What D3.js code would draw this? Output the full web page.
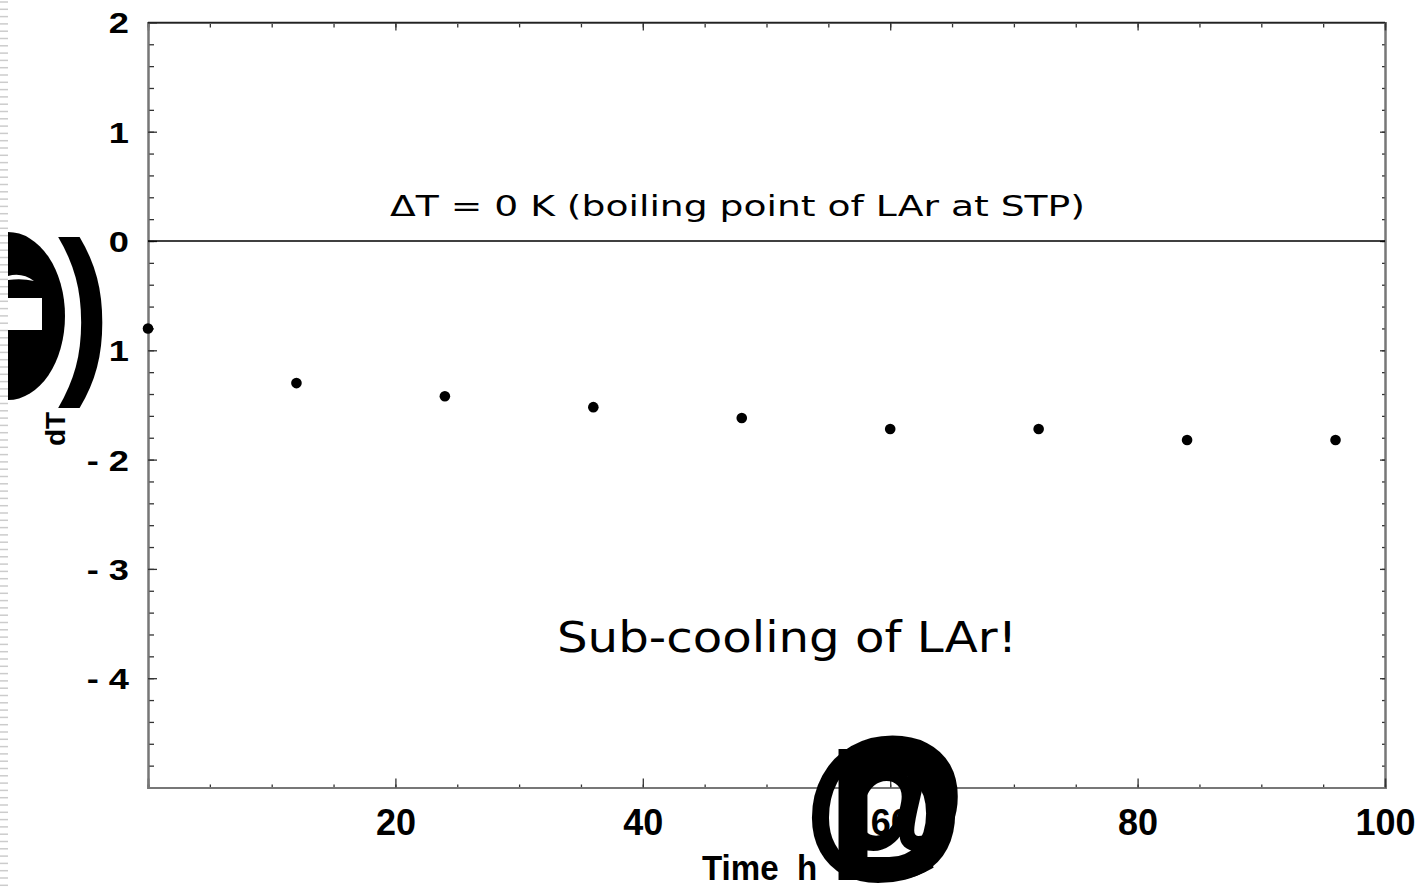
<!DOCTYPE html>
<html>
<head>
<meta charset="utf-8">
<script src="https://cdn.jsdelivr.net/npm/d3@7"></script>
<style>
  body { margin: 0; background: #fff; }
  svg { display: block; }
</style>
</head>
<body>
<div id="visualization"></div>
<script>
// data
var hours = [0, 12, 24, 36, 48, 60, 72, 84, 96];
var deltaT = [-0.80, -1.30, -1.42, -1.52, -1.62, -1.72, -1.72, -1.82, -1.82];
var xTicks = [20, 40, 60, 80, 100];
var yTicks = [-4, -3, -2, -1, 0, 1, 2];

var W = 1423, H = 888;
var plot = { left: 148, right: 1385, top: 22.4, bottom: 787.5 };

var svg = d3.select("#visualization").append("svg")
  .attr("width", W).attr("height", H);

var x = d3.scaleLinear().domain([0, 100]).range([plot.left, plot.right]);
var y = d3.scaleLinear().domain([-5, 2]).range([plot.bottom, plot.top]);

var minorX = d3.range(0, 101, 5);
var minorY = d3.range(-50, 21, 2).map(d => d / 10);

function fmtY(d) { return d < 0 ? "- " + Math.abs(d) : String(d); }

// minor ticks
svg.append("g").attr("transform", "translate(" + plot.left + ",0)")
  .call(d3.axisLeft(y).tickValues(minorY).tickSize(-6).tickFormat(""));
svg.append("g").attr("transform", "translate(" + plot.right + ",0)")
  .call(d3.axisRight(y).tickValues(minorY).tickSize(-3).tickFormat(""));
svg.append("g").attr("transform", "translate(0," + plot.bottom + ")")
  .call(d3.axisBottom(x).tickValues(minorX).tickSize(-3).tickFormat(""));
svg.append("g").attr("transform", "translate(0," + plot.top + ")")
  .call(d3.axisTop(x).tickValues(minorX).tickSize(-5).tickFormat(""));

// major ticks
svg.append("g").attr("transform", "translate(" + plot.right + ",0)")
  .call(d3.axisRight(y).tickValues(yTicks).tickSize(-5).tickFormat(""));
svg.append("g").attr("transform", "translate(0," + plot.top + ")")
  .call(d3.axisTop(x).tickValues(xTicks).tickSize(-8).tickFormat(""));

var yAxis = svg.append("g").attr("class", "yaxis")
  .attr("transform", "translate(" + plot.left + ",0)")
  .call(d3.axisLeft(y).tickValues(yTicks).tickSize(-9).tickFormat(fmtY));
yAxis.selectAll("text")
  .attr("x", -19 / 1.25)
  .attr("dy", "0.36em")
  .attr("transform", "scale(1.25,1)")
  .style("font-family", "'Liberation Sans', Arial, sans-serif")
  .style("font-weight", "bold")
  .style("font-size", "29px")
  .style("fill", "#000");

var xAxis = svg.append("g").attr("class", "xaxis")
  .attr("transform", "translate(0," + plot.bottom + ")")
  .call(d3.axisBottom(x).tickValues(xTicks).tickSize(-9).tickFormat(d => d));
xAxis.selectAll("text")
  .attr("y", 22)
  .style("font-family", "'Liberation Sans', Arial, sans-serif")
  .style("font-weight", "bold")
  .style("font-size", "36px")
  .style("fill", "#000");

svg.selectAll(".domain").attr("stroke", "#777").attr("stroke-width", 2);
svg.selectAll(".tick line").attr("stroke", "#333").attr("stroke-width", 1.3);

// top frame line is darker
svg.append("line")
  .attr("x1", plot.left).attr("x2", plot.right)
  .attr("y1", plot.top).attr("y2", plot.top)
  .attr("stroke", "#222").attr("stroke-width", 1.5);

// zero line
svg.append("line")
  .attr("x1", plot.left).attr("x2", plot.right)
  .attr("y1", y(0)).attr("y2", y(0))
  .attr("stroke", "#000").attr("stroke-width", 1.3);

// points
svg.append("g").selectAll("circle")
  .data(hours.map((h, i) => ({ h: h, v: deltaT[i] })))
  .enter().append("circle")
  .attr("cx", d => x(d.h))
  .attr("cy", d => y(d.v))
  .attr("r", 5.3)
  .attr("fill", "#000");

// annotations
svg.append("text")
  .attr("x", 390).attr("y", 216)
  .attr("textLength", 695).attr("lengthAdjust", "spacingAndGlyphs")
  .style("font-family", "'DejaVu Sans', Verdana, sans-serif")
  .style("font-size", "29px")
  .text("\u0394T = 0 K (boiling point of LAr at STP)");

svg.append("text")
  .attr("x", 557).attr("y", 652)
  .attr("textLength", 460).attr("lengthAdjust", "spacingAndGlyphs")
  .style("font-family", "'DejaVu Sans', Verdana, sans-serif")
  .style("font-size", "43px")
  .text("Sub-cooling of LAr!");

// axis titles
svg.append("text")
  .attr("transform", "translate(65,446) rotate(-90)")
  .style("font-family", "'Liberation Sans', Arial, sans-serif")
  .style("font-weight", "bold")
  .style("font-size", "28px")
  .text("dT");

svg.append("text")
  .attr("x", 702).attr("y", 880)
  .attr("transform", "translate(702,0) scale(0.92,1) translate(-702,0)")
  .style("font-family", "'Liberation Sans', Arial, sans-serif")
  .style("font-weight", "bold")
  .style("font-size", "36px")
  .style("white-space", "pre")
  .text("Time  h");

// garbled symbol-font glyphs of the original unit brackets
var glyph = "'Liberation Sans', Arial, sans-serif";
svg.append("ellipse")
  .attr("cx", 8).attr("cy", 316).attr("rx", 57).attr("ry", 84)
  .attr("fill", "#000");
svg.append("path")
  .attr("d", "M8,276 Q22,272 34,281 Q22,278 8,280 Z")
  .attr("fill", "#fff");
svg.append("rect")
  .attr("x", 8).attr("y", 298).attr("width", 34).attr("height", 32)
  .attr("fill", "#fff");
svg.append("text")
  .attr("transform", "translate(58,370) scale(0.85,1)")
  .style("font-family", glyph).style("font-weight", "bold")
  .style("font-size", "184px")
  .text(")");

svg.append("text")
  .attr("x", 827).attr("y", 879)
  .attr("stroke", "#000").attr("stroke-width", 2)
  .style("font-family", glyph).style("font-weight", "bold")
  .style("font-size", "187px")
  .text("D");
svg.append("text")
  .attr("x", 885).attr("y", 855).attr("text-anchor", "middle")
  .attr("stroke", "#000").attr("stroke-width", 4)
  .style("font-family", glyph).style("font-weight", "bold")
  .style("font-size", "165px")
  .text("@");

// slide edge strip
var strip = svg.append("g");
strip.append("rect").attr("x", 0).attr("y", 0).attr("width", 8).attr("height", H).attr("fill", "#fff");
strip.selectAll("line")
  .data(d3.range(2, H, 7.3))
  .enter().append("line")
  .attr("x1", 0).attr("x2", 8)
  .attr("y1", d => d).attr("y2", d => d)
  .attr("stroke", "#ccc").attr("stroke-width", 1.5);
</script>
</body>
</html>
